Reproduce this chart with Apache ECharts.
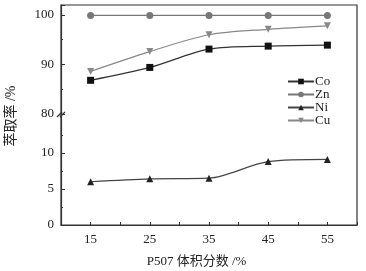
<!DOCTYPE html>
<html>
<head>
<meta charset="utf-8">
<script src="https://cdn.jsdelivr.net/npm/echarts@6/dist/echarts.min.js"></script>
<style>
  html, body { margin: 0; padding: 0; background: #fff; }
  #chart { width: 366px; height: 271px; }
</style>
</head>
<body>
<div id="chart"></div>
<script>
// volume fraction of P507 (%)
const fractions = [15, 25, 35, 45, 55];
// extraction rate (%)
const co = [86.8, 89.4, 93.1, 93.7, 93.9];
const zn = [99.9, 99.9, 99.9, 99.9, 99.9];
const ni = [6.0, 6.4, 6.5, 8.8, 9.1];
const cu = [88.6, 92.6, 96.0, 97.1, 97.8];
const lowTicks = [0, 5, 10];

const font = '"Liberation Serif", "Noto Sans CJK SC", serif';
const pairs = (vals) => fractions.map((f, i) => [f, vals[i]]);

const chart = echarts.init(document.getElementById("chart"));

const lineSeries = (name, data, grid, symbol, color, lineColor, extra) =>
  Object.assign(
    {
      name: name,
      type: "line",
      xAxisIndex: grid,
      yAxisIndex: grid,
      data: pairs(data),
      smooth: 0.3,
      symbol: symbol,
      symbolSize: 7,
      itemStyle: { color: color },
      lineStyle: { color: lineColor, width: 1.2 },
    },
    extra || {}
  );

const option = {
  backgroundColor: "#fff",
  animation: false,
  textStyle: { fontFamily: font },
  grid: [
    { left: 61, right: 9, top: 5, height: 109 },
    { left: 61, right: 9, top: 114, height: 111 },
  ],
  legend: {
    orient: "vertical",
    left: 282,
    top: 70,
    itemGap: 0,
    itemWidth: 26,
    itemHeight: 7,
    textStyle: { fontFamily: font, fontSize: 13, color: "#222", padding: [0, 0, 0, -4] },
    data: ["Co", "Zn", "Ni", "Cu"],
  },
  xAxis: [
    { gridIndex: 0, type: "value", min: 10, max: 60, show: false },
    {
      gridIndex: 1,
      type: "value",
      min: 10,
      max: 60,
      interval: 5,
      name: "P507 体积分数 /%",
      nameLocation: "middle",
      nameGap: 30,
      nameTextStyle: { fontFamily: font, fontSize: 13, color: "#222", padding: [0, 25, 0, 0] },
      axisLine: { lineStyle: { color: "#333", width: 1.2 } },
      axisTick: { inside: true, length: 3, lineStyle: { color: "#333" } },
      axisLabel: {
        margin: 8,
        fontFamily: font,
        fontSize: 13,
        color: "#222",
        formatter: (v) => (fractions.indexOf(v) >= 0 ? String(v) : ""),
      },
      splitLine: { show: false },
    },
  ],
  yAxis: [
    {
      gridIndex: 0,
      type: "value",
      min: 80,
      max: 102,
      interval: 10,
      axisLine: { show: true, lineStyle: { color: "#333", width: 1.2 } },
      axisTick: { inside: true, length: 4, lineStyle: { color: "#333" } },
      minorTick: { show: true, splitNumber: 2, length: 2, lineStyle: { color: "#333" } },
      axisLabel: { margin: 7, fontFamily: font, fontSize: 13, color: "#222" },
      splitLine: { show: false },
    },
    {
      gridIndex: 1,
      type: "value",
      min: 0,
      max: 15.4,
      interval: 5,
      axisLine: { show: true, lineStyle: { color: "#333", width: 1.2 } },
      axisTick: { inside: true, length: 4, customValues: lowTicks, lineStyle: { color: "#333" } },
      minorTick: { show: true, splitNumber: 2, length: 2, lineStyle: { color: "#333" } },
      axisLabel: { margin: 7, customValues: lowTicks, fontFamily: font, fontSize: 13, color: "#222" },
      splitLine: { show: false },
    },
  ],
  graphic: [
    {
      type: "rect",
      shape: { x: 61, y: 5, width: 296, height: 220 },
      style: { fill: null, stroke: "#333", lineWidth: 1.2 },
      silent: true,
      z: 0,
    },
    {
      type: "line",
      shape: { x1: 57, y1: 117, x2: 62, y2: 112 },
      style: { stroke: "#333", lineWidth: 1.2 },
    },
    {
      type: "line",
      shape: { x1: 60, y1: 117, x2: 65, y2: 112 },
      style: { stroke: "#333", lineWidth: 1.2 },
    },
    {
      type: "text",
      x: 11,
      y: 116,
      rotation: Math.PI / 2,
      style: {
        text: "萃取率 /%",
        fontFamily: font,
        fontSize: 14,
        fill: "#222",
        align: "center",
        verticalAlign: "middle",
      },
    },
  ],
  series: [
    lineSeries("Co", co, 0, "rect", "#111", "#333"),
    lineSeries("Zn", zn, 0, "circle", "#777", "#777"),
    lineSeries("Ni", ni, 1, "triangle", "#222", "#444"),
    lineSeries("Cu", cu, 0, "triangle", "#888", "#888", { symbolRotate: 180 }),
  ],
};

chart.setOption(option);
</script>
</body>
</html>
